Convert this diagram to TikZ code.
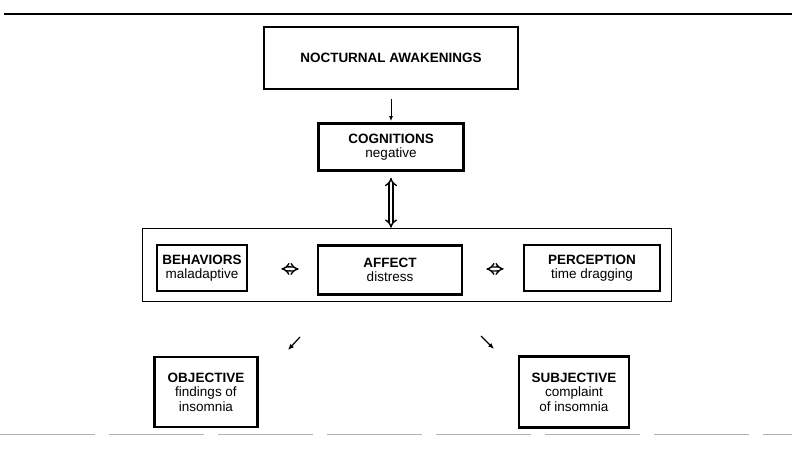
\documentclass[tikz,border=0pt]{standalone}
\usepackage{fontspec}
\setsansfont{Liberation Sans}
\usepackage{tikz}
\usetikzlibrary{arrows,arrows.meta,positioning}
\tikzset{
  basic/.style  = {draw, font=\sffamily\fontsize{13.5}{14.5}\selectfont, rectangle, align=center, inner sep=1pt},
  event/.style  = {basic, line width=2pt},
  state/.style  = {basic, line width=2.7pt},
  outcome/.style = {basic, line width=2.8pt},
  group/.style  = {draw, line width=1.6pt, rectangle},
  single/.style = {-{Latex[length=5pt,width=4pt]}, line width=1pt},
  both/.style   = {{Implies[scale=1.2]}-{Implies[scale=1.2]}, double, double distance=2.6pt, line width=1.4pt},
  slant/.style  = {-{Latex[length=6pt,width=5pt]}, line width=1.2pt}
}

\begin{document}
\begin{tikzpicture}[x=1pt, y=-1pt]
\useasboundingbox (0,0) rectangle (792,449);

% page rules
\draw[line width=1.3pt] (4,14) -- (792,14);
\draw[gray!60, line width=0.9pt, dash pattern=on 95pt off 14pt] (0,434) -- (792,434);

% the event at the top
\node[event, minimum width=254pt, minimum height=62pt] (noct) at (391,58)
  {\textbf{NOCTURNAL AWAKENINGS}};
\node[state, minimum width=145pt, minimum height=47pt] (cogn) at (391,147)
  {\textbf{COGNITIONS}\\negative};

% the loop of behaviors, affect and perception
\node[group, minimum width=529pt, minimum height=73pt] (loop) at (407,265) {};
\node[state, minimum width=90pt, minimum height=46pt] (behav) at (202,268)
  {\textbf{BEHAVIORS}\\maladaptive};
\node[state, minimum width=144pt, minimum height=49pt] (affect) at (390,270)
  {\textbf{AFFECT}\\distress};
\node[state, minimum width=136pt, minimum height=46pt] (percep) at (592,268)
  {\textbf{PERCEPTION}\\time dragging};

% the two outcomes
\node[outcome, minimum width=103pt, minimum height=70pt] (obj) at (206,392)
  {\textbf{OBJECTIVE}\\findings of\\insomnia};
\node[outcome, minimum width=110pt, minimum height=71pt] (subj) at (574,392)
  {\textbf{SUBJECTIVE}\\complaint\\of insomnia};

% arrows
\draw[single, shorten <=9pt, shorten >=1pt] (noct) -- (cogn);
\draw[both, shorten <=6pt] (cogn.south) -- (cogn.south |- loop.north);
\draw[both, shorten <=33pt, shorten >=18pt] (behav) -- (affect);
\draw[both, shorten <=23pt, shorten >=19pt] (affect) -- (percep);

\coordinate (l1) at (300,337);
\coordinate (l2) at (288,350);
\coordinate (r1) at (481,336);
\coordinate (r2) at (494,349);
\draw[slant] (l1) -- (l2);
\draw[slant] (r1) -- (r2);

\end{tikzpicture}
\end{document}
